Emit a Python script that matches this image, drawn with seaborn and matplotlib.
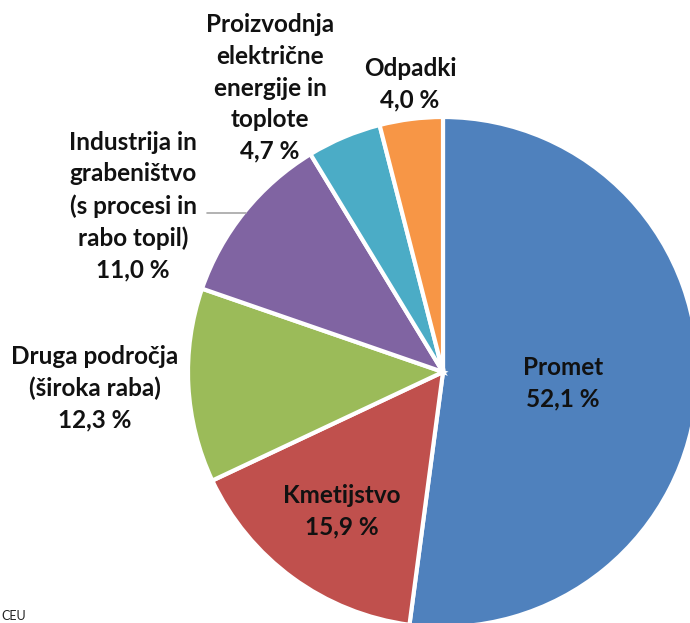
# Emisije toplogrednih plinov po sektorjih - tortni diagram
import matplotlib
matplotlib.use("Agg")
import matplotlib.pyplot as plt
import seaborn as sns

sectors = ["Promet", "Kmetijstvo", "Druga področja\n(široka raba)",
           "Industrija in\ngrabeništvo\n(s procesi in\nrabo topil)",
           "Proizvodnja\nelektrične\nenergije in\ntoplote", "Odpadki"]
shares = [52.1, 15.9, 12.3, 11.0, 4.7, 4.0]
colors = ["#4F81BD", "#C0504D", "#9BBB59", "#8064A2", "#4BACC6", "#F79646"]

# label anchor positions in figure pixels (x, y from top)
label_pos = [(563, 383), (342, 511), (95, 388), (133, 206), (270, 88), (410, 84)]

sns.set_theme(style="white")
plt.rcParams["font.family"] = ["Lato", "DejaVu Sans"]

W, H = 690, 623
fig = plt.figure(figsize=(W / 100, H / 100), dpi=100)
cx, cy, r = 443, 372, 255
ax = fig.add_axes([(cx - r) / W, (H - cy - r) / H, 2 * r / W, 2 * r / H])

palette = sns.color_palette(colors)
ax.pie(shares, colors=palette, startangle=90, counterclock=False, radius=1,
       wedgeprops=dict(edgecolor="white", linewidth=3))
ax.set_xlim(-1, 1)
ax.set_ylim(-1, 1)
ax.set_aspect("equal")
ax.axis("off")

for name, val, (px, py) in zip(sectors, shares, label_pos):
    txt = f"{name}\n{val:.1f} %".replace(".", ",")
    fig.text(px / W, 1 - py / H, txt, ha="center", va="center",
             fontsize=17.5, fontweight="bold", color="#111111", linespacing=1.45)

# leader line for Industrija
fig.add_artist(plt.Line2D([207 / W, 246 / W], [1 - 213 / H, 1 - 213 / H],
                          color="#a6a6a6", linewidth=1.2))

fig.text(0.002, 0.002, "CEU", fontsize=9, color="#222222", ha="left", va="bottom")

fig.savefig("out.png", dpi=100)
